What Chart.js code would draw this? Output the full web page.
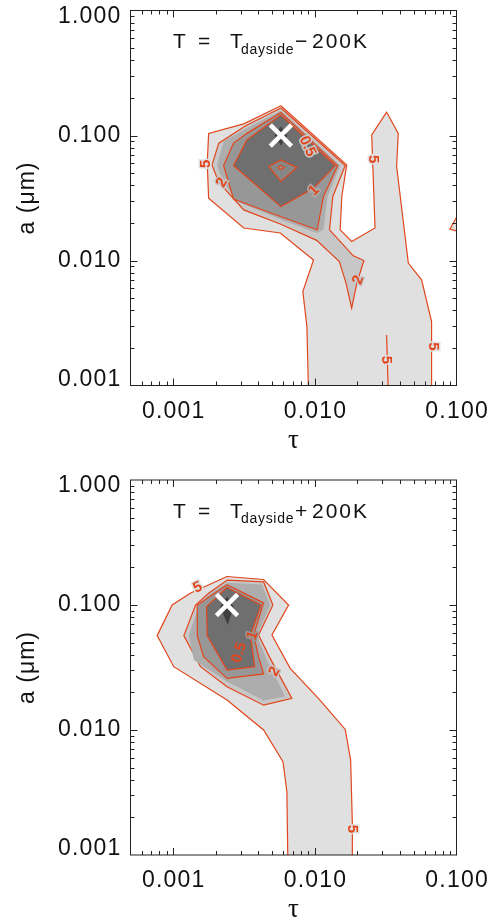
<!DOCTYPE html>
<html>
<head>
<meta charset="utf-8">
<script src="https://cdn.jsdelivr.net/npm/chart.js@4.4.1/dist/chart.umd.min.js"></script>
<style>
  html, body { margin: 0; padding: 0; background: #fff; }
  #wrap { position: relative; width: 499px; height: 920px; }
  canvas { position: absolute; left: 0; }
</style>
</head>
<body>
<div id="wrap">
  <canvas id="chartTop" width="499" height="469" style="top:0px"></canvas>
  <canvas id="chartBot" width="499" height="451" style="top:469px"></canvas>
</div>
<script>
// axis ticks
const xTickValues = [0.001, 0.01, 0.1];
const xTickLabels = ['0.001', '0.010', '0.100'];
const yTickValues = [0.001, 0.01, 0.1, 1];
const yTickLabels = ['0.001', '0.010', '0.100', '1.000'];

// ---- top panel: T = T_dayside - 200K ----
const top5Tau = [0.00576, 0.0168, 0.0155, 0.0151, 0.0182, 0.0266, 0.0252, 0.0321, 0.0388, 0.0378, 0.0457, 0.0567, 0.0667, 0.0667, 0.00902, 0.00879, 0.00823, 0.00979, 0.0057, 0.00315, 0.00178, 0.00174, 0.00178, 0.00315];
const top5A   = [0.173, 0.0582, 0.0325, 0.0176, 0.0142, 0.0182, 0.101, 0.154, 0.104, 0.0565, 0.00953, 0.0070, 0.00325, 0.0009, 0.0009, 0.00296, 0.00565, 0.0101, 0.0166, 0.0182, 0.0315, 0.0601, 0.104, 0.124];
const top5bTau = [0.105, 0.0898, 0.105];
const top5bA   = [0.0245, 0.0178, 0.0170];
const top5cTau = [0.0321, 0.0330];
const top5cA   = [0.00254, 0.0009];
const top2Tau = [0.00576, 0.0164, 0.0134, 0.0127, 0.0187, 0.0222, 0.0198, 0.0182, 0.0166, 0.0149, 0.0103, 0.0057, 0.00315, 0.0021, 0.00188, 0.0021, 0.00323];
const top2A   = [0.166, 0.0575, 0.0325, 0.0176, 0.0109, 0.0100, 0.00659, 0.00416, 0.00659, 0.00982, 0.0145, 0.0196, 0.0254, 0.0421, 0.0582, 0.0869, 0.119];
const top15Tau = [0.00576, 0.0151, 0.0123, 0.0115, 0.0103, 0.0057, 0.00282, 0.00221, 0.00204, 0.00227, 0.00332];
const top15A   = [0.158, 0.0575, 0.0325, 0.0176, 0.0166, 0.0214, 0.0296, 0.0442, 0.0582, 0.0895, 0.115];
const top1Tau = [0.00576, 0.0145, 0.0115, 0.0104, 0.0057, 0.00267, 0.00227, 0.00267, 0.00332];
const top1A   = [0.153, 0.0575, 0.0325, 0.0176, 0.0225, 0.031, 0.0575, 0.0869, 0.104];
const top05Tau = [0.00576, 0.0139, 0.00979, 0.00576, 0.00267, 0.00332];
const top05A   = [0.146, 0.0575, 0.0379, 0.027, 0.0575, 0.0923];
const topBumpTau = [0.00472, 0.00576, 0.00747, 0.00576];
const topBumpA   = [0.0565, 0.0638, 0.0555, 0.0429];
const topPeakTau = [0.00546, 0.00576, 0.00608, 0.00576];
const topPeakA   = [0.0555, 0.0575, 0.0555, 0.0535];
const topCoreTau = [0.00576, 0.0064, 0.00576, 0.0052];
const topCoreA   = [0.118, 0.1, 0.083, 0.1];
const topBestTau = [0.00576];
const topBestA   = [0.1];

// ---- bottom panel: T = T_dayside + 200K ----
const bot5Tau = [0.0024, 0.00435, 0.00653, 0.00498, 0.0067, 0.0106, 0.0164, 0.0179, 0.0184, 0.0184, 0.00645, 0.00635, 0.00596, 0.00435, 0.0024, 0.00101, 0.000771, 0.000984, 0.00132];
const bot5A   = [0.169, 0.16, 0.1, 0.0575, 0.0311, 0.0179, 0.0101, 0.00575, 0.00179, 0.0009, 0.0009, 0.00321, 0.00558, 0.0100, 0.0174, 0.0321, 0.0569, 0.1, 0.124];
const bot2Tau = [0.0024, 0.00435, 0.00506, 0.00401, 0.00484, 0.00689, 0.00435, 0.0024, 0.00156, 0.00119, 0.00144, 0.00178];
const bot2A   = [0.158, 0.153, 0.1, 0.0575, 0.0374, 0.0179, 0.0158, 0.0222, 0.0321, 0.0569, 0.1, 0.124];
const bot15Tau = [0.0024, 0.00424, 0.00484, 0.00391, 0.00459, 0.00618, 0.00435, 0.0024, 0.0014, 0.00129, 0.00152, 0.00183];
const bot15A   = [0.151, 0.146, 0.1, 0.0569, 0.0363, 0.0185, 0.0172, 0.0244, 0.0363, 0.0569, 0.1, 0.124];
const bot1Tau = [0.0024, 0.00435, 0.0037, 0.00401, 0.00435, 0.0024, 0.00164, 0.00148, 0.00148];
const bot1A   = [0.145, 0.104, 0.0575, 0.0386, 0.0281, 0.0259, 0.0386, 0.0569, 0.1];
const bot05Tau = [0.0024, 0.00417, 0.00351, 0.00376, 0.0024, 0.00174, 0.00172];
const bot05A   = [0.138, 0.1, 0.0575, 0.0321, 0.0302, 0.0569, 0.097];
const botCoreTau = [0.0024, 0.00267, 0.00243, 0.00215];
const botCoreA   = [0.117, 0.097, 0.0692, 0.097];
const botBestTau = [0.0024];
const botBestA   = [0.1];

// contour labels: text, tau, a
const topLabelText = ['5', '2', '0.5', '1', '5', '2', '5', '5'];
const topLabelTau  = [0.00169, 0.00221, 0.00887, 0.00989, 0.0256, 0.0203, 0.0685, 0.0321];
const topLabelA    = [0.0593, 0.0421, 0.0817, 0.0363, 0.0647, 0.0070, 0.00205, 0.0016];
const botLabelText = ['5', '0.5', '1', '2', '5'];
const botLabelTau  = [0.00149, 0.00293, 0.00364, 0.0052, 0.0182];
const botLabelA    = [0.138, 0.0416, 0.0569, 0.0293, 0.00162];

const RED = '#e2461c';
const G5 = '#e0e0e0', G2 = '#c7c7c7', G15 = '#adadad', G1 = '#979797', G05 = '#6f6f6f';

function pts(tau, a, close) {
  const p = tau.map((t, i) => ({x: t, y: a[i]}));
  if (close) p.push(p[0]);
  return p;
}

function region(tau, a, fillColor, lined, order) {
  return {
    data: pts(tau, a, true),
    showLine: true,
    fill: 'shape',
    backgroundColor: fillColor,
    borderColor: lined ? RED : 'rgba(0,0,0,0)',
    borderWidth: lined ? 1.2 : 0,
    pointRadius: 0,
    tension: 0,
    order: order
  };
}

function line(tau, a, order) {
  return {
    data: pts(tau, a, false),
    showLine: true,
    fill: false,
    borderColor: RED,
    borderWidth: 1.2,
    pointRadius: 0,
    order: order
  };
}

function bestFit(tau, a) {
  return {
    data: pts(tau, a, false),
    showLine: false,
    pointStyle: 'crossRot',
    pointRadius: 15,
    borderColor: '#ffffff',
    borderWidth: 4.5,
    order: 0
  };
}

const topLabelRot = [-90, -60, 65, -45, 90, -70, 90, 90];
const topLabelBg  = [G5, G2, G2, G15, G5, G2, G5, G5];
const botLabelRot = [-25, -72, -72, -60, 90];
const botLabelBg  = [G5, G05, G1, G2, G5];

function panelPlugin(titleTail, labels) {
  return {
    id: 'panel',
    afterDatasetsDraw(chart) {
      const ctx = chart.ctx;
      const xs = chart.scales.x, ys = chart.scales.y;
      ctx.save();
      ctx.font = 'bold 15px "Liberation Sans"';
      ctx.textAlign = 'center';
      ctx.textBaseline = 'middle';
      labels.text.forEach((t, i) => {
        ctx.save();
        ctx.translate(xs.getPixelForValue(labels.tau[i]), ys.getPixelForValue(labels.a[i]));
        ctx.rotate(labels.rot[i] * Math.PI / 180);
        ctx.lineWidth = 3;
        ctx.strokeStyle = labels.bg[i];
        ctx.strokeText(t, 0, 0);
        ctx.fillStyle = RED;
        ctx.fillText(t, 0, 0);
        ctx.restore();
      });
      ctx.restore();
    },
    afterDraw(chart) {
      const ctx = chart.ctx;
      const a = chart.chartArea;
      const xs = chart.scales.x, ys = chart.scales.y;
      ctx.save();
      ctx.strokeStyle = '#222';
      ctx.lineWidth = 1;
      ctx.strokeRect(a.left, a.top, a.right - a.left, a.bottom - a.top);
      ctx.beginPath();
      // x ticks (bottom and top, pointing inward)
      for (let e = -4; e <= -1; e++) {
        for (let k = 1; k <= 9; k++) {
          const v = k * Math.pow(10, e);
          if (v <= xs.min * 1.0001 || v >= xs.max * 0.9999) continue;
          const px = Math.round(xs.getPixelForValue(v)) + 0.5;
          const len = k === 1 ? 7 : 4;
          ctx.moveTo(px, a.bottom); ctx.lineTo(px, a.bottom - len);
          ctx.moveTo(px, a.top); ctx.lineTo(px, a.top + len);
        }
      }
      // y ticks (left and right)
      for (let e = -3; e <= 0; e++) {
        for (let k = 1; k <= 9; k++) {
          const v = k * Math.pow(10, e);
          if (v <= ys.min * 1.0001 || v >= ys.max * 0.9999) continue;
          const py = Math.round(ys.getPixelForValue(v)) + 0.5;
          const len = k === 1 ? 7 : 4;
          ctx.moveTo(a.left, py); ctx.lineTo(a.left + len, py);
          ctx.moveTo(a.right, py); ctx.lineTo(a.right - len, py);
        }
      }
      ctx.stroke();

      ctx.fillStyle = '#111';
      ctx.font = '23px "Liberation Sans"';
      ctx.letterSpacing = '1.2px';
      ctx.textBaseline = 'middle';
      ctx.textAlign = 'center';
      xTickValues.forEach((v, i) => {
        ctx.fillText(xTickLabels[i], xs.getPixelForValue(v) + 0.6, a.bottom + 26);
      });
      ctx.textAlign = 'right';
      yTickValues.forEach((v, i) => {
        let py = ys.getPixelForValue(v);
        py = Math.min(Math.max(py, a.top + 6), a.bottom - 6);
        ctx.fillText(yTickLabels[i], a.left - 9, py);
      });
      // axis titles
      ctx.textAlign = 'center';
      ctx.letterSpacing = '0px';
      ctx.font = '27px "Liberation Serif"';
      ctx.fillText('τ', (a.left + a.right) / 2, a.bottom + 55);
      ctx.save();
      ctx.font = '23px "Liberation Sans"';
      ctx.letterSpacing = '1px';
      ctx.translate(28, (a.top + a.bottom) / 2);
      ctx.rotate(-Math.PI / 2);
      ctx.fillText('a (μm)', 0, 0);
      ctx.restore();
      // panel title
      ctx.textAlign = 'left';
      ctx.textBaseline = 'alphabetic';
      ctx.font = '21px "Liberation Sans"';
      const yb = a.top + 37.8;
      ctx.fillText('T', 173, yb);
      ctx.fillText('=', 198, yb);
      ctx.fillText('T', 230, yb);
      ctx.fillText(titleTail[0], 295, yb);
      ctx.letterSpacing = '2px';
      ctx.fillText(titleTail[1], 312, yb);
      ctx.font = '14px "Liberation Sans"';
      ctx.letterSpacing = '0.7px';
      ctx.fillText('dayside', 241, yb + 5.3);
      ctx.restore();
    }
  };
}

function makeChart(id, datasets, padBottom, padTop, titleTail, labels) {
  return new Chart(document.getElementById(id), {
    type: 'scatter',
    data: { datasets: datasets },
    options: {
      responsive: false,
      animation: false,
      events: [],
      layout: {
        autoPadding: false,
        padding: { left: 130.5, right: 42.5, top: padTop, bottom: padBottom }
      },
      scales: {
        x: { type: 'logarithmic', min: 0.0005, max: 0.1, display: false },
        y: { type: 'logarithmic', min: 0.001, max: 1, display: false }
      },
      plugins: { legend: { display: false }, tooltip: { enabled: false } }
    },
    plugins: [panelPlugin(titleTail, labels)]
  });
}

makeChart('chartTop', [
  region(top5Tau, top5A, G5, true, 20),
  region(top5bTau, top5bA, G5, true, 20),
  line(top5cTau, top5cA, 19),
  region(top2Tau, top2A, G2, true, 18),
  region(top15Tau, top15A, G15, false, 17),
  region(top1Tau, top1A, G1, true, 16),
  region(top05Tau, top05A, G05, true, 15),
  region(topBumpTau, topBumpA, '#878787', true, 14),
  region(topPeakTau, topPeakA, '#9a9a9a', true, 13),
  region(topCoreTau, topCoreA, 'rgba(25,25,25,0.55)', false, 12),
  bestFit(topBestTau, topBestA)
], 83.5, 10.5, ['−', '200K'],
  {text: topLabelText, tau: topLabelTau, a: topLabelA, rot: topLabelRot, bg: topLabelBg});

makeChart('chartBot', [
  region(bot5Tau, bot5A, G5, true, 20),
  region(bot2Tau, bot2A, G2, true, 18),
  region(bot15Tau, bot15A, G15, false, 17),
  region(bot1Tau, bot1A, G1, true, 16),
  region(bot05Tau, bot05A, G05, true, 15),
  region(botCoreTau, botCoreA, 'rgba(25,25,25,0.55)', false, 12),
  bestFit(botBestTau, botBestA)
], 65, 11, ['+', '200K'],
  {text: botLabelText, tau: botLabelTau, a: botLabelA, rot: botLabelRot, bg: botLabelBg});
</script>
</body>
</html>
